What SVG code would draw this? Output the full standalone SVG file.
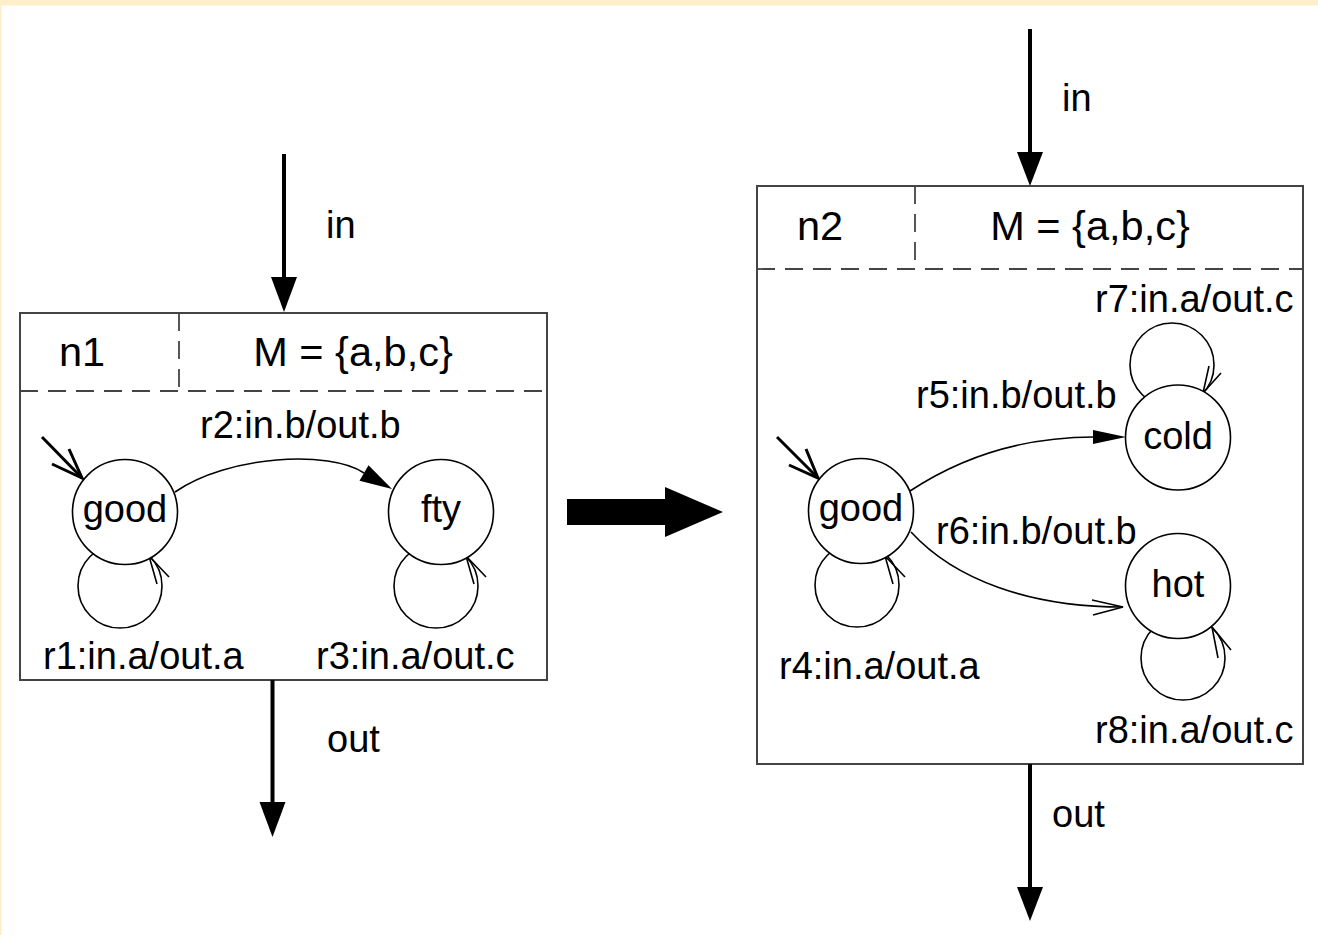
<svg xmlns="http://www.w3.org/2000/svg" width="1318" height="935" viewBox="0 0 1318 935">
<style>
text{font-family:"Liberation Sans",Arial,sans-serif;fill:#000}
.lbl{font-size:38px}
.hdr{font-size:41.5px;text-anchor:middle}
.st{font-size:38px;text-anchor:middle}
.box{fill:#fff;stroke:#444;stroke-width:2}
.dash{fill:none;stroke:#444;stroke-width:1.8;stroke-dasharray:18 10}
.state{fill:#fff;stroke:#000;stroke-width:1.6}
.edge{fill:none;stroke:#000;stroke-width:1.6}
.open{fill:none;stroke:#000;stroke-width:1.6;stroke-linejoin:miter}
.init{fill:none;stroke:#000;stroke-width:3}
.port{fill:none;stroke:#000;stroke-width:4}
.head{fill:#000;stroke:none}
</style>
<rect x="0" y="0" width="1318" height="935" fill="#FFEFC8"/>
<rect x="1.5" y="5.5" width="1316.5" height="929.5" fill="#fff"/>

<g id="n1">
<rect class="box" x="20" y="313" width="527" height="367"/>
<line class="dash" x1="20" y1="391" x2="547" y2="391"/>
<line class="dash" x1="179" y1="313" x2="179" y2="391"/>
<text class="hdr" x="82" y="366">n1</text>
<text class="hdr" x="353" y="366">M = {a,b,c}</text>
</g>

<g id="n2">
<rect class="box" x="757" y="186" width="546" height="578"/>
<line class="dash" x1="757" y1="269" x2="1303" y2="269"/>
<line class="dash" x1="915" y1="186" x2="915" y2="269"/>
<text class="hdr" x="820" y="240">n2</text>
<text class="hdr" x="1090" y="240">M = {a,b,c}</text>
</g>

<g id="connectors">
<!-- ports n1 -->
<line class="port" x1="284" y1="154" x2="284" y2="280"/>
<polygon class="head" points="271,277 297,277 284,312"/>
<line class="port" x1="272.5" y1="680" x2="272.5" y2="805"/>
<polygon class="head" points="259.5,802 285.5,802 272.5,837"/>
<!-- ports n2 -->
<line class="port" x1="1030" y1="29" x2="1030" y2="155"/>
<polygon class="head" points="1017,152 1043,152 1030,186"/>
<line class="port" x1="1030" y1="764" x2="1030" y2="890"/>
<polygon class="head" points="1017,887 1043,887 1030,921"/>
<!-- big arrow -->
<polygon class="head" points="567,499 665,499 665,487 723,512 665,537 665,525 567,525"/>

<!-- n1 initial -->
<line class="init" x1="42" y1="437" x2="82" y2="478"/>
<polyline class="init" points="52,464 82,478 69,449"/>
<!-- r2 -->
<path class="edge" d="M175 492 C228 455 330 450 364 473"/>
<polygon class="head" points="359.5,480.8 368.5,465.2 392,489"/>
<!-- r1 loop -->
<circle class="edge" cx="120" cy="586" r="42"/>
<polyline class="open" points="157,584 149,556 169,577"/>
<!-- r3 loop -->
<circle class="edge" cx="436" cy="586" r="42"/>
<polyline class="open" points="474,584 466,556 486,577"/>

<!-- n2 initial -->
<line class="init" x1="777" y1="437" x2="818" y2="478"/>
<polyline class="init" points="789,465 818,478 806,449"/>
<!-- r5 -->
<path class="edge" d="M910 491 C960 458 1020 437 1094 437"/>
<polygon class="head" points="1093,430 1093,444 1126,437"/>
<!-- r6 -->
<path class="edge" d="M911 532 C955 580 1030 607 1123 607"/>
<polyline class="open" points="1092,600 1123,607 1093,615"/>
<!-- r4 loop -->
<circle class="edge" cx="857" cy="585" r="42"/>
<polyline class="open" points="893,584 885,556 905,577"/>
<!-- r7 loop -->
<circle class="edge" cx="1172" cy="365" r="42"/>
<polyline class="open" points="1209,366 1203,393 1221,373"/>
<!-- r8 loop -->
<circle class="edge" cx="1183" cy="658" r="42"/>
<polyline class="open" points="1218,658 1212,627 1231,650"/>

<!-- port & edge labels -->
<text class="lbl" x="326" y="238">in</text>
<text class="lbl" x="327" y="752">out</text>
<text class="lbl" x="1062" y="111">in</text>
<text class="lbl" x="1052" y="827">out</text>
<text class="lbl" x="200" y="438">r2:in.b/out.b</text>
<text class="lbl" x="43" y="669">r1:in.a/out.a</text>
<text class="lbl" x="316" y="669">r3:in.a/out.c</text>
<text class="lbl" x="1095" y="312">r7:in.a/out.c</text>
<text class="lbl" x="916" y="408">r5:in.b/out.b</text>
<text class="lbl" x="936" y="544">r6:in.b/out.b</text>
<text class="lbl" x="779" y="679">r4:in.a/out.a</text>
<text class="lbl" x="1095" y="743">r8:in.a/out.c</text>
</g>

<g id="good1">
<circle class="state" cx="125" cy="512" r="52.5"/>
<text class="st" x="125" y="522">good</text>
</g>
<g id="fty">
<circle class="state" cx="441" cy="512" r="52.5"/>
<text class="st" x="441" y="522">fty</text>
</g>
<g id="good2">
<circle class="state" cx="861" cy="511" r="52.5"/>
<text class="st" x="861" y="521">good</text>
</g>
<g id="cold">
<circle class="state" cx="1178" cy="437.5" r="52.5"/>
<text class="st" x="1178" y="449">cold</text>
</g>
<g id="hot">
<circle class="state" cx="1178" cy="586" r="52.5"/>
<text class="st" x="1178" y="597">hot</text>
</g>
</svg>
